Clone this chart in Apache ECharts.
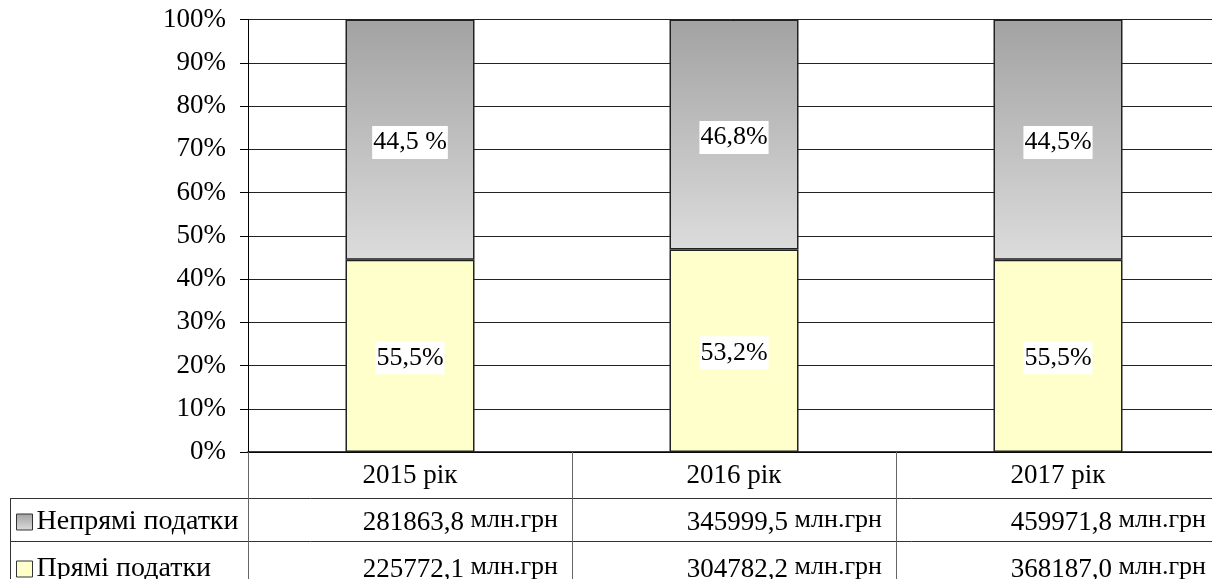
<!DOCTYPE html>
<html>
<head>
<meta charset="utf-8">
<script src="https://cdn.jsdelivr.net/npm/echarts@6/dist/echarts.min.js"></script>
<style>
html,body{margin:0;padding:0;background:#fff;}
#c{width:1212px;height:579px;}
</style>
</head>
<body>
<div id="c"></div>
<script>
var categories = ['2015 рік', '2016 рік', '2017 рік'];
var seriesNames = ['Непрямі податки', 'Прямі податки'];
var indirectValues = [281863.8, 345999.5, 459971.8];
var directValues = [225772.1, 304782.2, 368187.0];
var indirectText = ['281863,8', '345999,5', '459971,8'];
var directText = ['225772,1', '304782,2', '368187,0'];
var unitText = 'млн.грн';
var indirectLabels = ['44,5 %', '46,8%', '44,5%'];
var directLabels = ['55,5%', '53,2%', '55,5%'];
var yTicks = [0, 10, 20, 30, 40, 50, 60, 70, 80, 90, 100];

var FONT = '"Liberation Serif", "Times New Roman", serif';

var directPct = directValues.map(function (v, i) { return v / (v + indirectValues[i]) * 100; });
var indirectPct = indirectValues.map(function (v, i) { return v / (v + directValues[i]) * 100; });

var chart = echarts.init(document.getElementById('c'), null, {renderer: 'canvas'});

var grayGrad = new echarts.graphic.LinearGradient(0, 0, 0, 1, [
  {offset: 0, color: '#a2a2a2'},
  {offset: 1, color: '#dcdcdc'}
]);

var option = {
  animation: false,
  backgroundColor: '#fff',
  textStyle: {fontFamily: FONT},
  grid: {left: 248, width: 972, top: 19.5, height: 432.5, containLabel: false, outerBoundsMode: 'none'},
  legend: {
    orient: 'vertical',
    left: 16,
    top: 508,
    height: 120,
    padding: 0,
    data: seriesNames,
    itemWidth: 16,
    itemHeight: 16,
    itemGap: 19,
    icon: 'rect',
    itemStyle: {borderColor: '#333', borderWidth: 1},
    textStyle: {fontFamily: FONT, fontSize: 28, color: '#000', lineHeight: 28, padding: [0, 0, 0, -1]}
  },
  xAxis: {
    type: 'category',
    data: categories,
    axisLine: {show: true, lineStyle: {color: '#000', width: 1.5}},
    axisTick: {show: true, alignWithLabel: false, length: 127, lineStyle: {color: '#666', width: 1}},
    axisLabel: {
      margin: 0,
      width: 296,
      overflow: 'none',
      interval: 0,
      formatter: function (val, idx) {
        return '{y|' + val + '}\n{v|' + indirectText[idx] + '}{u| ' + unitText + '}\n{v|' + directText[idx] + '}{u| ' + unitText + '}';
      },
      rich: {
        y: {fontFamily: FONT, fontSize: 27, color: '#000', lineHeight: 47, align: 'center'},
        v: {fontFamily: FONT, fontSize: 27, color: '#000', lineHeight: 47, align: 'right'},
        u: {fontFamily: FONT, fontSize: 26, color: '#000', lineHeight: 42, align: 'right', padding: [0, 0, 5, 0]}
      }
    }
  },
  yAxis: {
    type: 'value',
    min: 0,
    max: 100,
    interval: 10,
    axisLine: {show: true, lineStyle: {color: '#000', width: 1}},
    axisTick: {show: true, length: 8, lineStyle: {color: '#000'}},
    axisLabel: {
      fontFamily: FONT, fontSize: 27, color: '#000', margin: 22,
      formatter: function (v) { return yTicks.indexOf(v) >= 0 ? v + '%' : ''; }
    },
    splitLine: {show: true, lineStyle: {color: '#222', width: 1}}
  },
  series: [
    {
      name: seriesNames[1],
      type: 'bar',
      stack: 'total',
      barWidth: 129,
      data: directPct,
      itemStyle: {color: '#ffffcc', borderColor: '#222', borderWidth: 1.5},
      label: {
        show: true,
        position: 'inside',
        formatter: function (p) { return directLabels[p.dataIndex]; },
        fontFamily: FONT, fontSize: 26, color: '#000',
        backgroundColor: '#fff', padding: [4, 1, 3, 1], offset: [0, 2]
      }
    },
    {
      name: seriesNames[0],
      type: 'bar',
      stack: 'total',
      barWidth: 129,
      data: indirectPct,
      itemStyle: {color: grayGrad, borderColor: '#222', borderWidth: 1.5},
      label: {
        show: true,
        position: 'inside',
        formatter: function (p) { return indirectLabels[p.dataIndex]; },
        fontFamily: FONT, fontSize: 26, color: '#000',
        backgroundColor: '#fff', padding: [4, 1, 3, 1], offset: [0, 3]
      }
    }
  ],
  graphic: [
    {type: 'line', silent: true, shape: {x1: 10, y1: 498.5, x2: 1212, y2: 498.5}, style: {stroke: '#333', lineWidth: 1}},
    {type: 'line', silent: true, shape: {x1: 10, y1: 541.5, x2: 1212, y2: 541.5}, style: {stroke: '#333', lineWidth: 1}},
    {type: 'line', silent: true, shape: {x1: 10.5, y1: 498, x2: 10.5, y2: 579}, style: {stroke: '#333', lineWidth: 1}}
  ]
};
chart.setOption(option);
</script>
</body>
</html>
